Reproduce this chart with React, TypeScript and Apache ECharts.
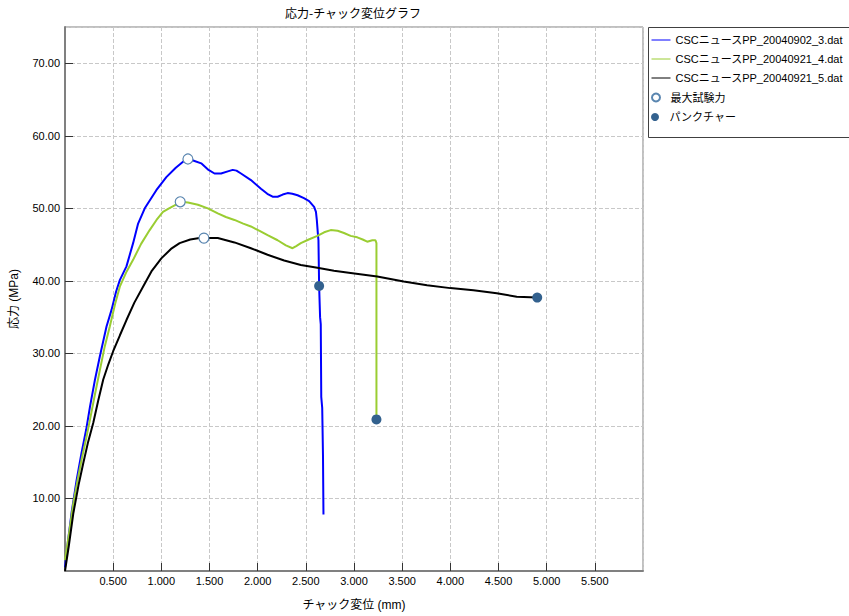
import React, { useEffect, useRef } from "react";
import * as echarts from "echarts";

const TITLE = "応力-チャック変位グラフ";
const X_NAME = "チャック変位 (mm)";
const Y_NAME = "応力 (MPa)";
const SERIES_NAMES = [
  "CSCニュースPP_20040902_3.dat",
  "CSCニュースPP_20040921_4.dat",
  "CSCニュースPP_20040921_5.dat",
];
const MAX_NAME = "最大試験力";
const PUNCT_NAME = "パンクチャー";

const blueData: number[][] = [
  [0, 0.5], [0.03, 4], [0.069, 8.1], [0.12, 12.5], [0.172, 16.3], [0.22, 19.5], [0.26, 22.7],
  [0.31, 26.3], [0.362, 29.6], [0.431, 33.7], [0.483, 36.0], [0.53, 38.5], [0.569, 40.1],
  [0.638, 42.0], [0.707, 45.2], [0.759, 47.9], [0.828, 50.0], [0.948, 52.5], [1.052, 54.3],
  [1.15, 55.6], [1.241, 56.6], [1.276, 56.8], [1.33, 56.6], [1.414, 56.2], [1.49, 55.3],
  [1.552, 54.8], [1.62, 54.8], [1.69, 55.1], [1.741, 55.3], [1.78, 55.2], [1.827, 54.8],
  [1.93, 53.9], [2.034, 52.7], [2.1, 52.0], [2.155, 51.6], [2.207, 51.6], [2.26, 51.9],
  [2.31, 52.1], [2.36, 52.0], [2.414, 51.8], [2.48, 51.4], [2.534, 51.0], [2.586, 50.2],
  [2.605, 49.5], [2.614, 48.4], [2.625, 46.5], [2.631, 45.6], [2.638, 39.3], [2.648, 35],
  [2.655, 34.0], [2.66, 24], [2.67, 22.5], [2.678, 16], [2.683, 7.8],
];

const greenData: number[][] = [
  [0, 1.5], [0.04, 5], [0.087, 9.4], [0.13, 12.5], [0.173, 15.4], [0.22, 18.3], [0.26, 20.9],
  [0.31, 24.3], [0.362, 27.7], [0.41, 30.8], [0.465, 33.7], [0.52, 36.8], [0.569, 39.2],
  [0.64, 41.3], [0.707, 42.9], [0.79, 45.1], [0.879, 47.0], [0.95, 48.4], [1.017, 49.5],
  [1.08, 50.0], [1.138, 50.4], [1.196, 50.9], [1.276, 50.8], [1.38, 50.5], [1.483, 50.0],
  [1.586, 49.3], [1.67, 48.8], [1.759, 48.4], [1.85, 47.9], [1.93, 47.5], [2.02, 46.9],
  [2.103, 46.3], [2.207, 45.6], [2.293, 44.9], [2.362, 44.5], [2.4, 44.8], [2.448, 45.2],
  [2.53, 45.7], [2.62, 46.2], [2.69, 46.7], [2.758, 47.0], [2.83, 46.9], [2.896, 46.6],
  [2.965, 46.2], [3.034, 46.0], [3.09, 45.7], [3.137, 45.4], [3.19, 45.6], [3.223, 45.6],
  [3.233, 45.2], [3.233, 20.9],
];

const blackData: number[][] = [
  [0, 0], [0.04, 3.5], [0.087, 8.0], [0.14, 11.8], [0.19, 14.9], [0.24, 17.8], [0.293, 20.4],
  [0.345, 23.5], [0.397, 26.4], [0.45, 28.5], [0.5, 30.3], [0.57, 32.5], [0.638, 34.6],
  [0.72, 37], [0.81, 39.2], [0.897, 41.3], [1.0, 43.1], [1.1, 44.4], [1.19, 45.2], [1.3, 45.7],
  [1.397, 45.9], [1.442, 45.9], [1.586, 45.9], [1.759, 45.3], [1.93, 44.5], [2.103, 43.6],
  [2.275, 42.8], [2.448, 42.2], [2.62, 41.8], [2.792, 41.4], [2.965, 41.1], [3.241, 40.6],
  [3.516, 39.9], [3.758, 39.4], [4.0, 39.0], [4.24, 38.7], [4.482, 38.3], [4.689, 37.8],
  [4.902, 37.7],
];

const maxPoints: number[][] = [[1.276, 56.8], [1.196, 50.9], [1.442, 45.9]];
const punctPoints: number[][] = [[2.638, 39.3], [3.233, 20.9], [4.902, 37.7]];

const X_MIN = 0, X_MAX = 6, X_INT = 0.5;
const Y_MIN = 0, Y_MAX = 75, Y_INT = 10;

const FONT = "'Liberation Sans', 'Noto Sans CJK JP', sans-serif";
const LINE_COLORS = ["#0000ff", "#9acd32", "#000000"];
const MARK_BORDER = "#5a86b0";
const MARK_FILL = "#33618e";

const LEGEND_CENTERS = [40, 59, 78, 97.5, 117];

export default function App() {
  const ref = useRef<HTMLDivElement>(null);
  useEffect(() => {
    if (!ref.current) return;
    const chart = echarts.init(ref.current, null, { renderer: "svg" });
    const lineSeries = [blueData, greenData, blackData].map((d, i) => ({
      name: SERIES_NAMES[i],
      type: "line",
      data: d,
      symbol: "none",
      lineStyle: { color: LINE_COLORS[i], width: 2 },
      itemStyle: { color: LINE_COLORS[i] },
      z: 3,
    }));
    const legendNames = [...SERIES_NAMES, MAX_NAME, PUNCT_NAME];
    const legends = legendNames.map((name, i) => {
      const isLine = i < 3;
      const ih = isLine ? 10 : 8;
      return {
        orient: "vertical",
        left: 651,
        top: LEGEND_CENTERS[i] - 6,
        padding: 0,
        itemWidth: 19,
        itemHeight: ih,
        selectedMode: false,
        textStyle: { fontSize: 11, color: "#000", fontFamily: FONT, lineHeight: 12 },
        data: [
          isLine
            ? { name, itemStyle: { opacity: 0 }, lineStyle: { width: 1 } }
            : { name },
        ],
        z: 5,
      };
    });
    chart.setOption({
      animation: false,
      backgroundColor: "#ffffff",
      textStyle: { fontFamily: FONT },
      grid: {
        left: 63, top: 27, width: 580, height: 544.5,
        show: true, borderColor: "#808080", borderWidth: 1, backgroundColor: "#ffffff",
      },
      graphic: [
        {
          type: "rect", z: 0,
          shape: { x: 648.5, y: 27.5, width: 210, height: 110 },
          style: { fill: "#ffffff", stroke: "#404040", lineWidth: 1 },
        },
        {
          type: "text", z: 10,
          x: 353, y: 12,
          style: {
            text: TITLE, textAlign: "center", textVerticalAlign: "middle",
            font: "12px 'Noto Sans CJK JP', sans-serif", fill: "#000",
          },
        },
      ],
      legend: legends,
      xAxis: {
        type: "value", min: X_MIN, max: X_MAX, interval: X_INT,
        name: X_NAME, nameLocation: "middle", nameGap: 28,
        nameTextStyle: { fontSize: 12, color: "#000", fontFamily: FONT },
        axisLine: { show: true, lineStyle: { color: "#808080", width: 2 } },
        axisTick: { show: true, inside: true, length: 8, lineStyle: { color: "#333" } },
        axisLabel: {
          color: "#000", fontSize: 11, margin: 5,
          showMinLabel: false, showMaxLabel: false,
          formatter: (v: number) => v.toFixed(3),
        },
        splitLine: { show: true, lineStyle: { color: "#c8c8c8", type: "dashed" } },
      },
      yAxis: {
        type: "value", min: Y_MIN, max: Y_MAX, interval: Y_INT,
        name: Y_NAME, nameLocation: "middle", nameGap: 45, nameRotate: 90,
        nameTextStyle: { fontSize: 12, color: "#000", fontFamily: FONT },
        axisLine: { show: true, lineStyle: { color: "#808080", width: 2 } },
        axisTick: { show: true, inside: true, length: 8, lineStyle: { color: "#333" } },
        axisLabel: {
          color: "#000", fontSize: 11, margin: 5,
          showMinLabel: false, showMaxLabel: false,
          formatter: (v: number) => v.toFixed(2),
        },
        splitLine: { show: true, lineStyle: { color: "#c8c8c8", type: "dashed" } },
      },
      series: [
        ...lineSeries,
        {
          name: MAX_NAME, type: "scatter", data: maxPoints,
          symbol: "circle", symbolSize: 10,
          itemStyle: { color: "#ffffff", borderColor: MARK_BORDER, borderWidth: 1.2, opacity: 1 },
          z: 5,
        },
        {
          name: PUNCT_NAME, type: "scatter", data: punctPoints,
          symbol: "circle", symbolSize: 10,
          itemStyle: { color: MARK_FILL, opacity: 1 },
          z: 5,
        },
      ],
    });
    return () => chart.dispose();
  }, []);
  return (
    <div
      ref={ref}
      style={{ position: "fixed", left: 0, top: 0, width: 849, height: 616 }}
    />
  );
}
